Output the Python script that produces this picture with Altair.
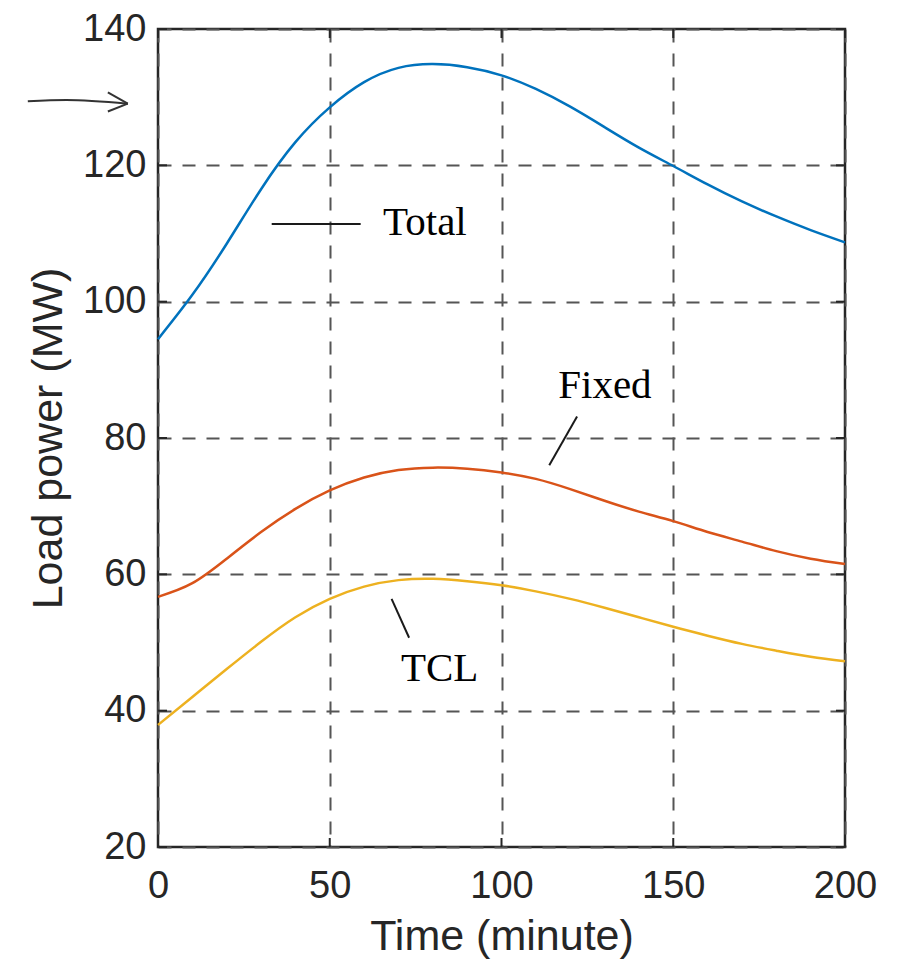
import altair as alt
import pandas as pd

# ---- data ----
time_min = [0, 10, 20, 30, 40, 50, 60, 70, 80, 90, 100, 110, 120, 130, 140, 150, 160, 170, 180, 190, 200]
total = [94.5, 101.0, 108.5, 116.5, 123.4, 128.5, 132.2, 134.3, 134.85, 134.4, 133.2, 131.2,
         128.6, 125.6, 122.6, 119.9, 117.2, 114.7, 112.5, 110.5, 108.7]
fixed = [56.7, 58.7, 62.3, 66.2, 69.6, 72.3, 74.2, 75.3, 75.65, 75.5, 74.95, 74.0,
         72.5, 70.8, 69.2, 67.8, 66.2, 64.8, 63.4, 62.3, 61.5]
tcl = [37.9, 42.0, 46.1, 50.1, 53.7, 56.4, 58.2, 59.15, 59.35, 59.0, 58.4, 57.5,
       56.4, 55.1, 53.7, 52.3, 51.0, 49.8, 48.8, 47.9, 47.25]

series_names = ["Total", "Fixed", "TCL"]
series_colors = ["#0072BD", "#D95319", "#EDB120"]

x_ticks = [0, 50, 100, 150, 200]
y_ticks = [20, 40, 60, 80, 100, 120, 140]

# annotation labels (data coordinates)
label_text = ["Total", "Fixed", "TCL"]
label_t = [77.7, 130.1, 82.0]
label_v = [111.6, 87.7, 46.1]

# annotation leader lines (data coordinates)
lead_t = [33.1, 122.0, 68.0]
lead_v = [111.4, 83.15, 56.4]
lead_t2 = [59.0, 113.9, 73.1]
lead_v2 = [111.4, 76.0, 50.7]

# hand-drawn arrow at top left (outside the plot area)
arrow_t = [-37.9, -26.7, -8.8]
arrow_v = [129.4, 129.6, 129.05]
head_t = [-14.6, -14.6]
head_v = [130.7, 127.9]

# ---- tables ----
rows = []
for name, vals in zip(series_names, [total, fixed, tcl]):
    for t, v in zip(time_min, vals):
        rows.append({"t": t, "v": v, "series": name})
df = pd.DataFrame(rows)

W, H = 687, 818
FRAME = "#262626"

x_enc = alt.X("t:Q", scale=alt.Scale(domain=[0, 200], nice=False, zero=False),
              axis=alt.Axis(values=x_ticks, title="Time (minute)", tickSize=0, labelPadding=20,
                            labelFlush=False, domain=False, grid=True, titlePadding=10))
y_enc = alt.Y("v:Q", scale=alt.Scale(domain=[20, 140], nice=False, zero=False),
              axis=alt.Axis(values=y_ticks, title="Load power (MW)", tickSize=0, labelPadding=12,
                            domain=False, grid=True, titlePadding=12))

lines = alt.Chart(df).mark_line(strokeWidth=2.5, interpolate="natural").encode(
    x=x_enc, y=y_enc,
    color=alt.Color("series:N", scale=alt.Scale(domain=series_names, range=series_colors), legend=None),
)

xt = pd.DataFrame({"t": x_ticks})
yt = pd.DataFrame({"v": y_ticks})
tick_style = dict(color=FRAME, strokeWidth=2)
xt_bottom = alt.Chart(xt).mark_rule(**tick_style).encode(x=x_enc, y=alt.value(H), y2=alt.value(H - 9))
xt_top = alt.Chart(xt).mark_rule(**tick_style).encode(x=x_enc, y=alt.value(0), y2=alt.value(9))
yt_left = alt.Chart(yt).mark_rule(**tick_style).encode(y=y_enc, x=alt.value(0), x2=alt.value(9))
yt_right = alt.Chart(yt).mark_rule(**tick_style).encode(y=y_enc, x=alt.value(W), x2=alt.value(W - 9))

lab_df = pd.DataFrame({"t": label_t, "v": label_v, "label": label_text})
labels = alt.Chart(lab_df).mark_text(font="Liberation Serif", fontSize=41, color="#000000",
                                     align="center", baseline="middle").encode(
    x=x_enc, y=y_enc, text="label:N")

lead_df = pd.DataFrame({"t": lead_t, "v": lead_v, "t2": lead_t2, "v2": lead_v2})
leaders = alt.Chart(lead_df).mark_rule(color="#1a1a1a", strokeWidth=2).encode(
    x=x_enc, y=y_enc, x2="t2:Q", y2="v2:Q")

arrow_df = pd.DataFrame({"t": arrow_t, "v": arrow_v, "o": list(range(len(arrow_t)))})
arrow = alt.Chart(arrow_df).mark_line(color="#333333", strokeWidth=2, interpolate="monotone").encode(
    x=x_enc, y=y_enc, order="o:Q")
head_df = pd.DataFrame({"t": head_t, "v": head_v, "t2": [arrow_t[-1]] * 2, "v2": [arrow_v[-1]] * 2})
head = alt.Chart(head_df).mark_rule(color="#333333", strokeWidth=2).encode(
    x=x_enc, y=y_enc, x2="t2:Q", y2="v2:Q")

chart = alt.layer(lines, xt_bottom, xt_top, yt_left, yt_right, leaders, labels, arrow, head).properties(
    width=W, height=H,
    background="white",
    autosize=alt.AutoSizeParams(type="none"),
    padding={"left": 150, "top": 21, "right": 45, "bottom": 120},
).configure_view(
    stroke=FRAME, strokeWidth=2.5
).configure_axis(
    labelFont="Liberation Sans", labelFontSize=38, labelColor="#262626",
    titleFont="Liberation Sans", titleFontSize=43, titleFontWeight="normal", titleColor="#262626",
    gridColor="#555555", gridWidth=2, gridDash=[13, 11], gridOpacity=1,
)

chart.save("out.html", embed_options={"renderer": "svg", "actions": False})
